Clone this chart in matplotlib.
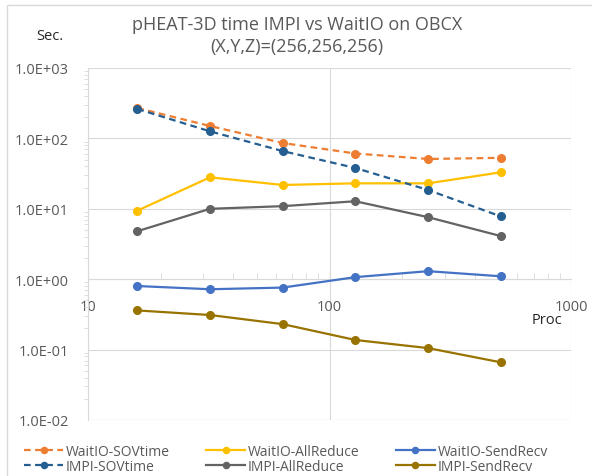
import matplotlib.pyplot as plt
from matplotlib.patches import Rectangle
from matplotlib.ticker import LogLocator, NullFormatter, FixedLocator, FixedFormatter

plt.rcParams['font.family'] = ['Open Sans', 'DejaVu Sans']

procs = [16, 32, 64, 128, 256, 512]
waitio_sov = [270, 150, 86, 61, 51, 53]
waitio_allreduce = [9.4, 28, 21.8, 23, 23, 33]
waitio_sendrecv = [0.80, 0.72, 0.76, 1.07, 1.30, 1.10]
impi_sov = [262, 126, 66, 38, 18.5, 7.8]
impi_allreduce = [4.8, 10.0, 10.9, 12.8, 7.6, 4.1]
impi_sendrecv = [0.36, 0.31, 0.23, 0.137, 0.105, 0.066]

ytick_vals = [1e-2, 1e-1, 1e0, 1e1, 1e2, 1e3]
ytick_labels = ['1.0E-02', '1.0E-01', '1.0E+00', '1.0E+01', '1.0E+02', '1.0E+03']
xtick_vals = [10, 100, 1000]
xtick_labels = ['10', '100', '1000']

txt = '#595959'
grid_c = '#D9D9D9'

fig = plt.figure(figsize=(5.92, 4.77), dpi=100)
ax = fig.add_axes([88/592, 1-421/477, (571-88)/592, (421-69)/477])

series = [
    (waitio_sov, 'WaitIO-SOVtime', '#ED7D31', '--'),
    (waitio_allreduce, 'WaitIO-AllReduce', '#FFC000', '-'),
    (waitio_sendrecv, 'WaitIO-SendRecv', '#4472C4', '-'),
    (impi_sov, 'IMPI-SOVtime', '#255E91', '--'),
    (impi_allreduce, 'IMPI-AllReduce', '#636363', '-'),
    (impi_sendrecv, 'IMPI-SendRecv', '#997300', '-'),
]
lines = []
for vals, name, col, ls in series:
    ln, = ax.plot(procs, vals, ls, color=col, lw=1.6, marker='o', ms=5.5,
                  label=name, dashes=(3, 2) if ls == '--' else (None, None), zorder=3)
    lines.append(ln)

ax.set_xscale('log')
ax.set_yscale('log')
ax.set_xlim(10, 1000)
ax.set_ylim(1e-2, 1e3)

ax.yaxis.set_major_locator(FixedLocator(ytick_vals))
ax.yaxis.set_major_formatter(FixedFormatter(ytick_labels))
ax.yaxis.set_minor_locator(LogLocator(base=10, subs=range(2, 10), numticks=20))
ax.yaxis.set_minor_formatter(NullFormatter())
ax.xaxis.set_major_locator(FixedLocator(xtick_vals))
ax.xaxis.set_major_formatter(FixedFormatter(xtick_labels))
ax.xaxis.set_minor_locator(LogLocator(base=10, subs=range(2, 10), numticks=20))
ax.xaxis.set_minor_formatter(NullFormatter())

ax.grid(True, which='major', color=grid_c, lw=0.8, zorder=0)
for s in ['top', 'right']:
    ax.spines[s].set_visible(False)
ax.spines['left'].set_color(grid_c)
ax.spines['bottom'].set_color(grid_c)
ax.spines['bottom'].set_position(('data', 1.0))
ax.axhline(1e-2, color=grid_c, lw=0.8, zorder=0)

ax.tick_params(axis='y', which='major', length=0, pad=14, labelsize=10.5, labelcolor=txt)
ax.tick_params(axis='y', which='minor', length=3, color=grid_c, direction='out')
ax.tick_params(axis='x', which='major', length=0, pad=14, labelsize=10.5, labelcolor=txt)
ax.tick_params(axis='x', which='minor', length=4, color=grid_c, direction='in')

fig.text(297/592, 1-25/477, 'pHEAT-3D time IMPI vs WaitIO on OBCX', ha='center', va='center',
         fontsize=13, color=txt)
fig.text(297/592, 1-47/477, '(X,Y,Z)=(256,256,256)', ha='center', va='center',
         fontsize=13, color=txt)
fig.text(50/592, 1-37/477, 'Sec.', ha='center', va='center', fontsize=10.5, color='#262626')
fig.text(547/592, 1-321/477, 'Proc', ha='center', va='center', fontsize=10.5, color='#262626')

# legend filled row by row: three per row
order = [0, 3, 1, 4, 2, 5]
fig.legend([lines[i] for i in order], [series[i][1] for i in order],
           loc='center', bbox_to_anchor=(286/592, 1-460/477), ncol=3, frameon=False,
           fontsize=10, labelcolor=txt, handlelength=2.8, handletextpad=0.2,
           columnspacing=2.6, labelspacing=0.0, markerscale=0.8)

fig.add_artist(Rectangle((7/592, -0.01), 1, 1-6/477+0.01, transform=fig.transFigure,
                         fill=False, edgecolor='#D9D9D9', lw=1))

fig.savefig('out.png', dpi=100)
